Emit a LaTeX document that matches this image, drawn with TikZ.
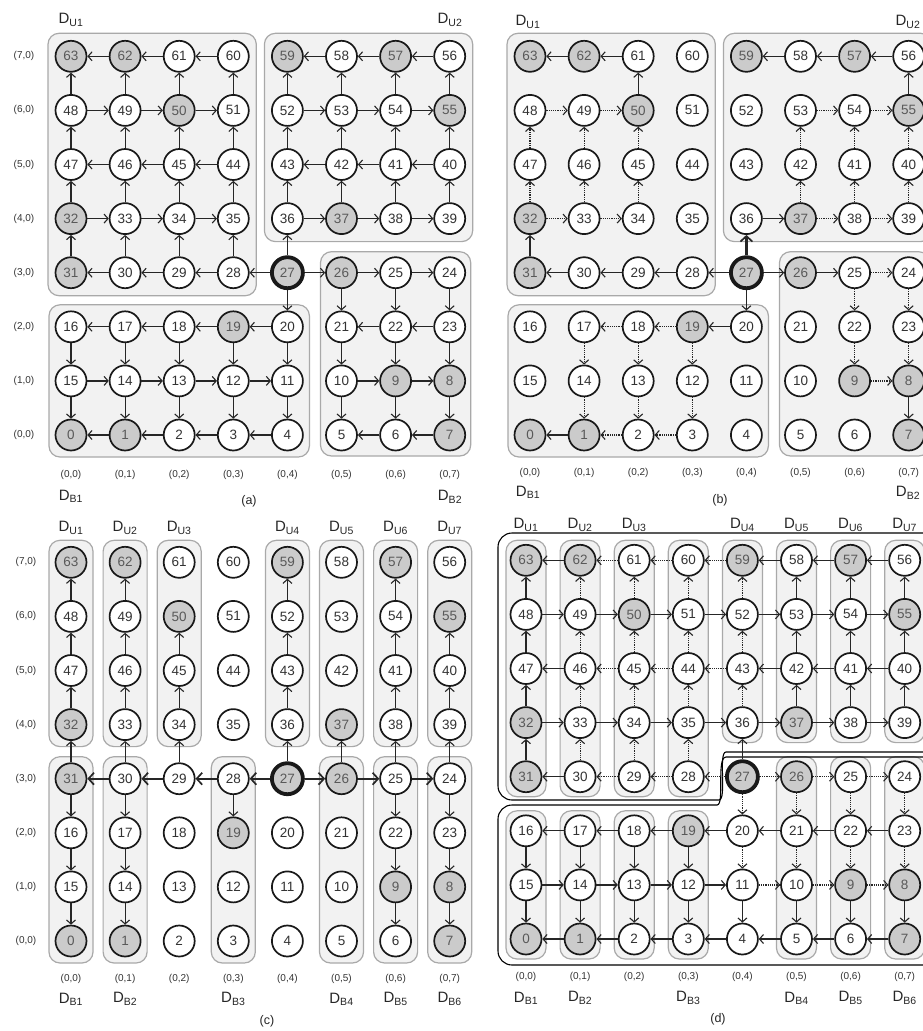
\documentclass[tikz,border=0pt]{standalone}
\usepackage{fontspec}
\setmainfont{Liberation Sans}
\usetikzlibrary{arrows.meta}
\definecolor{ngray}{HTML}{CBCBCB}
\definecolor{boxfill}{HTML}{F2F2F2}
\definecolor{boxline}{HTML}{A9A9A9}
\definecolor{edgecol}{HTML}{262626}
\newcommand\gs{54.1}
\newcommand\Dlab[1]{D\textsubscript{#1}}
% nodes of one panel: prefix, x origin, y origin
\newcommand\mkpanel[3]{%
 \foreach \r in {0,...,7}{%
  \foreach \c in {0,...,7}{%
   \pgfmathtruncatemacro\n{8*\r+\c+isodd(\r)*(7-2*\c)}%
   \pgfmathtruncatemacro\g{(\n==0)||(\n==1)||(\n==7)||(\n==8)||(\n==9)||(\n==19)||(\n==26)||(\n==31)||(\n==32)||(\n==37)||(\n==50)||(\n==55)||(\n==57)||(\n==59)||(\n==62)||(\n==63)}%
   \ifnum\n=27
     \node[nd,srcnode] (#1\n) at ({#2+\gs*\c},{#3-\gs*\r}) {\n};
   \else\ifnum\g=1
     \node[nd,graynode] (#1\n) at ({#2+\gs*\c},{#3-\gs*\r}) {\n};
   \else
     \node[nd] (#1\n) at ({#2+\gs*\c},{#3-\gs*\r}) {\n};
   \fi\fi
  }}}
% region box: ox, oy, c1, c2, r1, r2, pad
\newcommand\rbox[7]{%
  \filldraw[regbox] ({#1+\gs*#3-#7},{#2-\gs*#6-#7}) rectangle ({#1+\gs*#4+#7},{#2-\gs*#5+#7});}
\newcommand\edges[3]{\foreach \s/\t in {#3} \draw[#2] (#1\s) -- (#1\t);}
% row and column labels
\newcommand\rowlabels[4]{\foreach \r in {0,...,7} \node[lab] (#1rl\r) at (#2,{#3-\gs*\r}) {(\r,0)};}
\newcommand\collabels[4]{\foreach \c in {0,...,7} \node[lab] (#1cl\c) at ({#2+\gs*\c},#4) {(0,\c)};}
\begin{document}
\begin{tikzpicture}[x=1pt,y=-1pt,
  nd/.style={circle, draw=black!90, line width=1.7pt, fill=white, minimum size=31pt, inner sep=0pt,
     font=\fontsize{13.5}{13.5}\selectfont, text=black!80},
  graynode/.style={fill=ngray, text=black!65},
  srcnode/.style={fill=ngray, text=black!65, line width=3.8pt},
  regbox/.style={fill=boxfill, draw=boxline, line width=1.2pt, rounded corners=11pt},
  arr/.style={draw=edgecol, line width=1.2pt, -{Straight Barb[length=4pt,width=9pt,line width=1.1pt]}},
  dotarr/.style={arr, densely dotted},
  thickarr/.style={draw=edgecol, line width=2.3pt, -{Straight Barb[length=5.5pt,width=12pt,line width=1.7pt]}},
  lab/.style={font=\fontsize{10}{10}\selectfont, text=black!80, inner sep=0pt},
  dlab/.style={font=\fontsize{15}{15}\selectfont, text=black!85, inner sep=0pt},
  captext/.style={font=\fontsize{12.5}{12.5}\selectfont, text=black!85, inner sep=0pt},
  outline/.style={draw=black, line width=1.1pt, rounded corners=14pt}
]
\useasboundingbox (0,0) rectangle (923,1031);
\begin{scope}
\clip (0,0) rectangle (923,1031);
\fill[white] (0,0) rectangle (923,1031);

% ===================== (a) =====================
\rbox{71}{435}{0}{3}{3}{7}{23}
\rbox{71}{435}{4}{7}{4}{7}{23}
\rbox{71}{435}{0}{4}{0}{2}{22}
\rbox{71}{435}{5}{7}{0}{3}{21}
\mkpanel{a}{71}{435}
\edges{a}{arr}{62/63,61/62,60/61,58/59,57/58,56/57,48/63,49/62,50/61,51/60,52/59,53/58,54/57,55/56,48/49,49/50,50/51,52/53,53/54,54/55,47/48,46/49,45/50,44/51,43/52,42/53,41/54,40/55,46/47,45/46,44/45,42/43,41/42,40/41,32/47,33/46,34/45,35/44,36/43,37/42,38/41,39/40,32/33,33/34,34/35,36/37,37/38,38/39,31/32,30/33,29/34,28/35,27/36,30/31,29/30,28/29,27/28,27/26,26/25,25/24,27/20,26/21,25/22,24/23,20/19,19/18,18/17,17/16,22/21,23/22,16/15,17/14,18/13,19/12,20/11,21/10,22/9,23/8,15/14,14/13,13/12,12/11,10/9,9/8,15/0,14/1,13/2,12/3,11/4,10/5,9/6,8/7,1/0,2/1,3/2,4/3,6/5,7/6}
\rowlabels{a}{24}{435}{}
\collabels{a}{71}{}{475}
\node[dlab] (aU1) at (71,20) {\Dlab{U1}};
\node[dlab] (aU2) at (450,20) {\Dlab{U2}};
\node[dlab] (aB1) at (71,496) {\Dlab{B1}};
\node[dlab] (aB2) at (450,497) {\Dlab{B2}};
\node[captext] (acap) at (249,501) {(a)};

% ===================== (b) =====================
\rbox{530}{435}{0}{3}{3}{7}{23}
\rbox{530}{435}{4}{7}{4}{7}{23}
\rbox{530}{435}{0}{4}{0}{2}{22}
\rbox{530}{435}{5}{7}{0}{3}{21}
\mkpanel{b}{530}{435}
\edges{b}{arr}{62/63,61/62,58/59,57/58,56/57,50/61,55/56,31/32,30/31,29/30,28/29,27/28,27/26,26/25,27/20,20/19,8/7,1/0,36/37}
\edges{b}{thickarr}{27/36}
\edges{b}{dotarr}{48/49,49/50,53/54,54/55,47/48,46/49,45/50,42/53,41/54,40/55,32/47,33/46,34/45,37/42,38/41,39/40,32/33,33/34,37/38,38/39,25/24,25/22,24/23,19/18,18/17,17/14,18/13,19/12,22/9,23/8,9/8,14/1,13/2,12/3,2/1,3/2}
\collabels{b}{530}{}{473}
\node[dlab] (bU1) at (528,22) {\Dlab{U1}};
\node[dlab] (bU2) at (908,22) {\Dlab{U2}};
\node[dlab] (bB1) at (528,492) {\Dlab{B1}};
\node[dlab] (bB2) at (908,493) {\Dlab{B2}};
\node[captext] (bcap) at (720,500) {(b)};

% ===================== (c) =====================
\foreach \c in {0,1,2,4,5,6,7} {\rbox{71}{941}{\c}{\c}{4}{7}{22}}
\foreach \c in {0,1,3,5,6,7} {\rbox{71}{941}{\c}{\c}{0}{3}{22}}
\mkpanel{c}{71}{941}
\edges{c}{arr}{48/63,47/48,32/47,49/62,46/49,33/46,45/50,34/45,52/59,43/52,36/43,54/57,41/54,38/41,40/55,39/40,31/32,30/33,29/34,27/36,26/37,25/38,24/39,31/16,16/15,15/0,30/17,17/14,14/1,28/19,25/22,22/9,9/6,24/23,23/8,8/7}
\edges{c}{thickarr}{27/28,28/29,29/30,30/31,27/26,26/25,25/24}
\rowlabels{c}{26}{941}{}
\collabels{c}{71}{}{979}
\foreach \c/\k in {0/1,1/2,2/3,4/4,5/5,6/6,7/7} {\node[dlab] (cU\k) at ({71+\gs*\c},528) {\Dlab{U\k}};}
\foreach \c/\k in {0/1,1/2,3/3,5/4,6/5,7/6} {\node[dlab] (cB\k) at ({71+\gs*\c},999) {\Dlab{B\k}};}
\node[captext] (ccap) at (267,1021) {(c)};

% ===================== (d) =====================
\foreach \c in {0,1,2,3} {\rbox{526}{939}{\c}{\c}{3}{7}{20}}
\foreach \c in {4,5,6,7} {\rbox{526}{939}{\c}{\c}{4}{7}{20}}
\foreach \c in {0,1,2,3} {\rbox{526}{939}{\c}{\c}{0}{2}{20}}
\foreach \c in {5,6,7} {\rbox{526}{939}{\c}{\c}{0}{3}{20}}
\draw[outline] (498,533) -- (940,533) -- (940,752) -- (740,752) .. controls (718,752) and (727,800) .. (705,800) -- (498,800) -- cycle;
\draw[outline] (498,805) -- (703,805) .. controls (725,805) and (716,757) .. (740,757) -- (940,757) -- (940,965) -- (498,965) -- cycle;
\mkpanel{d}{526}{939}
\edges{d}{arr}{62/63,58/59,57/58,56/57,48/63,53/58,54/57,55/56,48/49,49/50,50/51,51/52,52/53,53/54,54/55,47/48,42/53,41/54,40/55,46/47,42/43,41/42,40/41,32/47,37/42,38/41,39/40,32/33,33/34,34/35,35/36,36/37,37/38,38/39,31/32,27/36,30/31,17/16,18/17,19/18,20/19,21/20,22/21,23/22,16/15,17/14,18/13,19/12,15/14,14/13,13/12,12/11,15/0,14/1,13/2,12/3,11/4,10/5,9/6,8/7,1/0,2/1,3/2,4/3,5/4,6/5,7/6}
\edges{d}{dotarr}{61/62,60/61,59/60,49/62,50/61,51/60,52/59,46/49,45/50,44/51,43/52,45/46,44/45,43/44,33/46,34/45,35/44,36/43,30/33,29/34,28/35,29/30,28/29,27/28,27/26,26/25,25/24,27/20,26/21,25/22,24/23,20/11,21/10,22/9,23/8,11/10,10/9,9/8}
\collabels{d}{526}{}{977}
\foreach \c/\k in {0/1,1/2,2/3,4/4,5/5,6/6,7/7} {\node[dlab] (dU\k) at ({526+\gs*\c},525) {\Dlab{U\k}};}
\foreach \c/\k in {0/1,1/2,3/3,5/4,6/5,7/6} {\node[dlab] (dB\k) at ({526+\gs*\c},998) {\Dlab{B\k}};}
\node[captext] (dcap) at (718,1019) {(d)};
\end{scope}
\end{tikzpicture}
\end{document}
